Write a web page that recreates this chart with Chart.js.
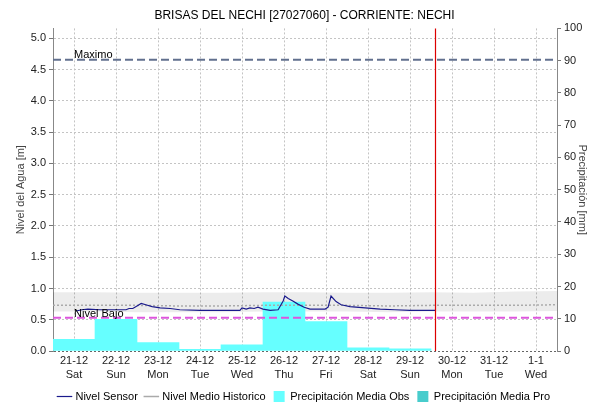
<!DOCTYPE html>
<html>
<head>
<meta charset="utf-8">
<script src="https://cdn.jsdelivr.net/npm/chart.js@4/dist/chart.umd.min.js"></script>
<style>
  html, body { margin: 0; padding: 0; background: #fff; }
  #wrap { width: 595px; height: 403px; }
</style>
</head>
<body>
<div id="wrap"><canvas id="chart" width="595" height="403"></canvas></div>
<script>
// Days shown on the x axis (from 21-12 00:00, one unit = one day)
const dayLabels = ['21-12', '22-12', '23-12', '24-12', '25-12', '26-12', '27-12', '28-12', '29-12', '30-12', '31-12', '1-1'];
const weekDays = ['Sat', 'Sun', 'Mon', 'Tue', 'Wed', 'Thu', 'Fri', 'Sat', 'Sun', 'Mon', 'Tue', 'Wed'];

// Daily rainfall [mm]
const precipObs = [3.6, 9.8, 2.6, 0.5, 1.9, 15.2, 9.1, 1.0, 0.7, null, null, null];
const precipPro = [null, null, null, null, null, null, null, null, null, null, null, null];

// Sensor readings: time in days since 21-12 00:00, level in m
const sensorDays = [0.55, 0.69, 0.83, 1.12, 1.48, 1.74, 1.81, 1.90, 2.00, 2.10, 2.21, 2.36, 2.55, 2.79, 3.02, 3.50,
  4.45, 4.50, 4.60, 4.69, 4.79, 4.88, 5.00, 5.17, 5.36, 5.48, 5.52, 5.60, 5.71, 5.83, 5.98, 6.12,
  6.48, 6.55, 6.62, 6.74, 6.86, 7.07, 7.43, 7.79, 8.14, 8.50, 9.10];
const sensorLevel = [0.64, 0.66, 0.67, 0.66, 0.66, 0.66, 0.68, 0.68, 0.72, 0.76, 0.74, 0.71, 0.69, 0.68, 0.66, 0.65,
  0.65, 0.69, 0.67, 0.69, 0.68, 0.70, 0.67, 0.65, 0.66, 0.80, 0.88, 0.84, 0.80, 0.75, 0.70, 0.67,
  0.67, 0.70, 0.88, 0.79, 0.74, 0.71, 0.69, 0.67, 0.66, 0.65, 0.65];

// Historic mean level and its band, one value per day boundary
const histDays = [0, 1, 2, 3, 4, 5, 6, 7, 8, 9, 10, 11, 12];
const histHigh = [0.94, 0.94, 0.93, 0.93, 0.93, 0.94, 0.94, 0.93, 0.93, 0.94, 0.93, 0.95, 0.96];
const histMean = [0.73, 0.73, 0.73, 0.72, 0.72, 0.73, 0.73, 0.73, 0.72, 0.73, 0.73, 0.73, 0.74];
const histLow = [0.63, 0.63, 0.62, 0.62, 0.62, 0.63, 0.63, 0.63, 0.62, 0.63, 0.63, 0.63, 0.64];

// Level axis ticks [m]
const levelTicks = [0, 0.5, 1, 1.5, 2, 2.5, 3, 3.5, 4, 4.5, 5];

// Reference levels [m] and current time
const nivelMaximo = 4.66;
const nivelBajo = 0.53;
const nowDay = 9.1;

const font = 'Liberation Sans, Arial, sans-serif';
const pts = (xs, ys) => xs.map((x, i) => ({ x: x, y: ys[i] }));
const flat = (v) => [{ x: 0, y: v }, { x: dayLabels.length, y: v }];

// Red "now" marker plus text for the reference lines
const markers = {
  id: 'markers',
  afterDatasetsDraw(chart) {
    const { ctx, chartArea } = chart;
    const xt = chart.scales.xt, y = chart.scales.y;
    const xNow = Math.round(xt.getPixelForValue(nowDay)) + 0.5;
    ctx.save();
    ctx.setLineDash([]);
    ctx.strokeStyle = 'rgb(220, 0, 0)';
    ctx.lineWidth = 1.2;
    ctx.beginPath();
    ctx.moveTo(xNow, chartArea.top);
    ctx.lineTo(xNow, chartArea.bottom);
    ctx.stroke();
    ctx.fillStyle = '#000';
    ctx.font = '11px ' + font;
    ctx.textAlign = 'left';
    ctx.textBaseline = 'bottom';
    const xTxt = xt.getPixelForValue(0.5);
    ctx.fillText('Maximo', xTxt, y.getPixelForValue(nivelMaximo) + 1);
    ctx.fillText('Nivel Bajo', xTxt, y.getPixelForValue(nivelBajo) + 2);
    ctx.restore();
  }
};

new Chart(document.getElementById('chart'), {
  data: {
    labels: dayLabels.map((d, i) => [d, weekDays[i]]),
    datasets: [
      {
        type: 'line', label: 'Nivel Sensor', xAxisID: 'xt', yAxisID: 'y',
        data: pts(sensorDays, sensorLevel),
        borderColor: '#1a1a8c', borderWidth: 1.2, pointRadius: 0, pointStyle: 'line',
        tension: 0, order: 0
      },
      {
        type: 'line', label: 'Nivel Medio Historico', xAxisID: 'xt', yAxisID: 'y',
        data: pts(histDays, histMean),
        borderColor: '#aaaaaa', borderWidth: 1.5, borderDash: [2, 2], pointRadius: 0, pointStyle: 'line',
        order: 2
      },
      {
        type: 'bar', label: 'Precipitación Media Obs', xAxisID: 'x', yAxisID: 'y1',
        data: precipObs, backgroundColor: '#66ffff', borderWidth: 0,
        barPercentage: 1, categoryPercentage: 1, grouped: false, pointStyle: 'rect', order: 4
      },
      {
        type: 'bar', label: 'Precipitación Media Pro', xAxisID: 'x', yAxisID: 'y1',
        data: precipPro, backgroundColor: '#48cccc', borderWidth: 0,
        barPercentage: 1, categoryPercentage: 1, grouped: false, pointStyle: 'rect', order: 4
      },
      {
        type: 'line', label: 'maximo', xAxisID: 'xt', yAxisID: 'y',
        data: flat(nivelMaximo),
        borderColor: '#62708e', borderWidth: 2, borderDash: [8, 4], pointRadius: 0, order: 1
      },
      {
        type: 'line', label: 'bajo', xAxisID: 'xt', yAxisID: 'y',
        data: flat(nivelBajo),
        borderColor: '#dd55dd', borderWidth: 2, borderDash: [8, 4], pointRadius: 0, order: 1
      },
      {
        type: 'line', label: 'hist-high', xAxisID: 'xt', yAxisID: 'y',
        data: pts(histDays, histHigh),
        borderWidth: 0, pointRadius: 0, fill: false, order: 5
      },
      {
        type: 'line', label: 'hist-low', xAxisID: 'xt', yAxisID: 'y',
        data: pts(histDays, histLow),
        borderWidth: 0, pointRadius: 0, fill: '-1', backgroundColor: 'rgba(0,0,0,0.075)', order: 5
      }
    ]
  },
  options: {
    responsive: false,
    animation: false,
    layout: { padding: { left: 14, right: 0, top: 0, bottom: -9 } },
    plugins: {
      title: {
        display: true,
        text: 'BRISAS DEL NECHI [27027060] - CORRIENTE: NECHI',
        color: '#000',
        font: { family: font, size: 12, weight: 'normal' },
        padding: { top: 8, bottom: 6 }
      },
      legend: {
        position: 'bottom',
        labels: {
          usePointStyle: true,
          boxHeight: 11,
          color: '#000',
          font: { family: font, size: 11 },
          padding: 8,
          filter: (item) => item.datasetIndex < 4,
          sort: (a, b) => a.datasetIndex - b.datasetIndex
        }
      },
      tooltip: { enabled: false }
    },
    scales: {
      x: {
        type: 'category',
        offset: true,
        grid: { offset: false, color: '#c4c4c4', drawTicks: false },
        border: { display: false, dash: [2, 2] },
        ticks: {
          color: '#222', font: { family: font, size: 11, lineHeight: 1.27 },
          padding: 3, maxRotation: 0, autoSkip: false
        },
        afterFit: (s) => { s.height = 32; }
      },
      xt: {
        type: 'linear', display: false, min: 0, max: dayLabels.length
      },
      y: {
        position: 'left',
        min: 0, max: 5.16,
        afterBuildTicks: (s) => { s.ticks = levelTicks.map(v => ({ value: v })); },
        ticks: {
          color: '#222',
          font: { family: font, size: 11 },
          padding: 3,
          callback: (v) => v.toFixed(1)
        },
        grid: {
          color: (c) => (c.tick && c.tick.value === 0 ? '#666' : '#c4c4c4'),
          tickColor: '#777', tickLength: 4
        },
        border: { color: '#888', dash: [2, 2] },
        title: {
          display: true, text: 'Nivel del Agua [m]', color: '#444',
          font: { family: font, size: 11 }, padding: { top: 0, bottom: 0 }
        },
        afterFit: (s) => { s.width = 39; }
      },
      y1: {
        position: 'right',
        min: 0, max: 100,
        ticks: { stepSize: 10, color: '#222', font: { family: font, size: 11 }, padding: 3 },
        grid: { drawOnChartArea: false, tickColor: '#777', tickLength: 4 },
        border: { color: '#888' },
        title: {
          display: true, text: 'Precipitación [mm]', color: '#444',
          font: { family: font, size: 11 }, padding: { top: 6, bottom: 0 }
        },
        afterFit: (s) => { s.width = 38; }
      }
    }
  },
  plugins: [markers]
});
</script>
</body>
</html>
